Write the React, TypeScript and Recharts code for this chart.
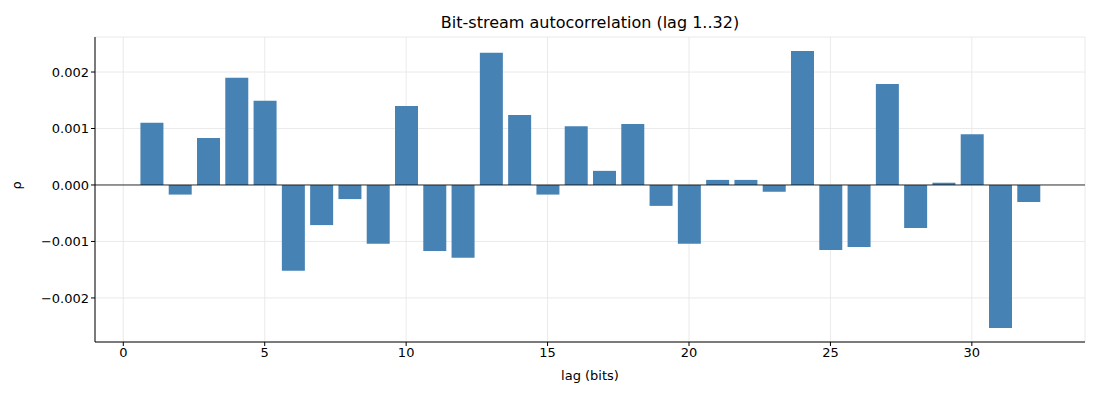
import React from "react";
import { BarChart, Bar, XAxis, YAxis, CartesianGrid, ReferenceLine, Label } from "recharts";

const lags = Array.from({ length: 32 }, (_, i) => i + 1);
const rho = [
  0.0011, -0.00017, 0.00083, 0.0019, 0.00149, -0.00152, -0.00071, -0.00025,
  -0.00104, 0.0014, -0.00117, -0.00129, 0.00234, 0.00124, -0.00017, 0.00104,
  0.00025, 0.00108, -0.00037, -0.00104, 0.00009, 0.00009, -0.00012, 0.00237,
  -0.00115, -0.0011, 0.00179, -0.00076, 0.00004, 0.0009, -0.00253, -0.0003,
];
const xTicks = [0, 5, 10, 15, 20, 25, 30];
const yTicks = [-0.002, -0.001, 0, 0.001, 0.002];
const data = lags.map((lag, i) => ({ lag, rho: rho[i] }));

const fmtY = (v: number) => {
  const s = Math.abs(v).toFixed(3);
  return v < 0 ? "\u2212" + s : s;
};

export default function App() {
  const font = "DejaVu Sans, sans-serif";
  return (
    <div style={{ position: "relative", width: 1100, height: 400, fontFamily: font }}>
      <div style={{ position: "absolute", top: 5, left: 95 - 8, width: 990, textAlign: "center", fontSize: 16, color: "#000" }}>
        Bit-stream autocorrelation (lag 1..32)
      </div>
      <BarChart width={1100} height={400} data={data} margin={{ top: 29, right: 23, bottom: 26, left: 0 }} barSize={23}>
        <CartesianGrid stroke="#e5e5e5" strokeWidth={0.8} />
        <XAxis
          dataKey="lag"
          type="number"
          domain={[-1, 34]}
          ticks={xTicks}
          allowDataOverflow
          height={40}
          tick={{ fill: "#000", fontSize: 13, fontFamily: font }}
          tickLine={{ stroke: "#000" }}
          axisLine={{ stroke: "#000" }}
          tickSize={4}
        >
          <Label value="lag (bits)" position="insideBottom" offset={2} style={{ fill: "#000", fontSize: 13, fontFamily: font }} />
        </XAxis>
        <YAxis
          type="number"
          domain={[-0.00278, 0.00262]}
          ticks={yTicks}
          allowDataOverflow
          width={87}
          tickFormatter={fmtY}
          tick={{ fill: "#000", fontSize: 13, fontFamily: font }}
          tickLine={{ stroke: "#000" }}
          axisLine={{ stroke: "#000" }}
          tickSize={4}
        >
          <Label value="ρ" angle={-90} position="insideLeft" offset={8} style={{ fill: "#000", fontSize: 13, fontFamily: font }} />
        </YAxis>
        <ReferenceLine y={0} stroke="#000" strokeWidth={0.8} />
        <Bar dataKey="rho" fill="#4682b4" isAnimationActive={false} />
      </BarChart>
    </div>
  );
}
